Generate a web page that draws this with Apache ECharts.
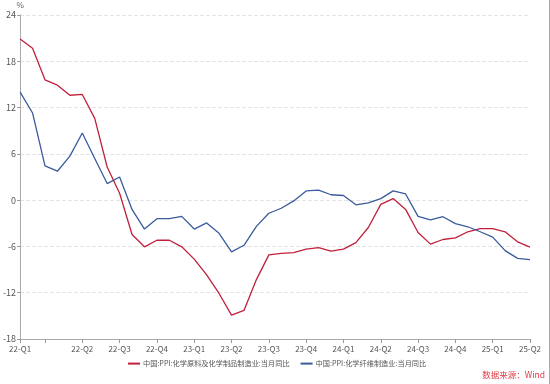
<!DOCTYPE html>
<html>
<head>
<meta charset="utf-8">
<script src="https://cdn.jsdelivr.net/npm/echarts@6/dist/echarts.min.js"></script>
<style>html,body{margin:0;padding:0;background:#fff;}#c{width:550px;height:384px;}</style>
</head>
<body>
<div id="c"></div>
<script>
const months = [];
for (let y = 2022; y <= 2025; y++) {
  for (let m = 1; m <= 12; m++) {
    if (y === 2025 && m > 6) break;
    months.push(y + '-' + String(m).padStart(2, '0'));
  }
}
const seriesNames = ['中国:PPI:化学原料及化学制品制造业:当月同比', '中国:PPI:化学纤维制造业:当月同比'];
const chemRaw = [20.9, 19.7, 15.6, 14.9, 13.6, 13.7, 10.6, 4.3, 0.9, -4.45, -6.05, -5.2, -5.2, -6.05, -7.65, -9.7, -12.1, -14.9, -14.3, -10.3, -7.1, -6.9, -6.8, -6.35, -6.15, -6.6, -6.35, -5.5, -3.55, -0.55, 0.2, -1.2, -4.2, -5.7, -5.1, -4.9, -4.1, -3.7, -3.7, -4.1, -5.4, -6.1];
const fiber = [14.0, 11.3, 4.45, 3.75, 5.7, 8.7, 5.4, 2.15, 3.0, -1.2, -3.75, -2.4, -2.4, -2.1, -3.75, -2.95, -4.3, -6.7, -5.85, -3.4, -1.7, -1.05, -0.1, 1.2, 1.3, 0.7, 0.6, -0.6, -0.35, 0.2, 1.2, 0.8, -2.1, -2.55, -2.15, -3.05, -3.45, -4.1, -4.8, -6.55, -7.55, -7.7];
const yTicks = [-18, -12, -6, 0, 6, 12, 18, 24];

function qLabel(v) {
  const [y, m] = v.split('-');
  return y.slice(2) + '-Q' + Math.ceil(Number(m) / 3);
}

const chart = echarts.init(document.getElementById('c'), null, {renderer: 'canvas'});
chart.setOption({
  animation: false,
  backgroundColor: '#fff',
  grid: {left: 16, right: 20, top: 15, bottom: 45, containLabel: false},
  xAxis: {
    type: 'category',
    data: months,
    boundaryGap: false,
    axisLine: {onZero: false, lineStyle: {color: '#aaa', width: 1}},
    axisTick: {show: true, length: 4, lineStyle: {color: '#999'}, interval: (i) => i === 0 || (i - 2) % 3 === 0},
    axisLabel: {
      interval: (i) => i === 0 || (i >= 5 && (i - 2) % 3 === 0),
      formatter: qLabel,
      fontSize: 8, color: '#555', margin: 6,
      fontFamily: 'Noto Sans CJK SC'
    },
    splitLine: {show: false}
  },
  yAxis: {
    type: 'value',
    min: yTicks[0], max: yTicks[yTicks.length - 1], interval: 6,
    name: '%',
    nameGap: 6,
    nameTextStyle: {fontSize: 8, color: '#666', fontFamily: 'Noto Sans CJK SC'},
    axisLine: {show: true, lineStyle: {color: '#aaa'}},
    axisTick: {show: true, length: 3, lineStyle: {color: '#999'}},
    axisLabel: {fontSize: 9, color: '#555', margin: 4, fontFamily: 'Noto Sans CJK SC'},
    splitLine: {show: true, lineStyle: {type: 'dashed', color: '#e3e3e3'}}
  },
  legend: {
    left: 123, top: 355,
    icon: 'rect', itemWidth: 12, itemHeight: 2, itemGap: 11,
    textStyle: {fontSize: 7.2, color: '#555', fontFamily: 'Noto Sans CJK SC', padding: [0, 0, 0, -2]},
    data: seriesNames
  },
  graphic: [
    {type: 'text', right: 5, top: 371, style: {text: '数据来源：Wind', fill: '#e03c46', fontSize: 8.5, fontFamily: 'Noto Sans CJK SC'}},
    {type: 'line', shape: {x1: 549.5, y1: 0, x2: 549.5, y2: 384}, style: {stroke: '#aaa', lineWidth: 1}}
  ],
  series: [
    {name: seriesNames[0], type: 'line', data: chemRaw, showSymbol: false, symbol: 'none',
     lineStyle: {color: '#c0203c', width: 1.3}, itemStyle: {color: '#c0203c'}},
    {name: seriesNames[1], type: 'line', data: fiber, showSymbol: false, symbol: 'none',
     lineStyle: {color: '#3a5b9d', width: 1.3}, itemStyle: {color: '#3a5b9d'}}
  ]
});
</script>
</body>
</html>
